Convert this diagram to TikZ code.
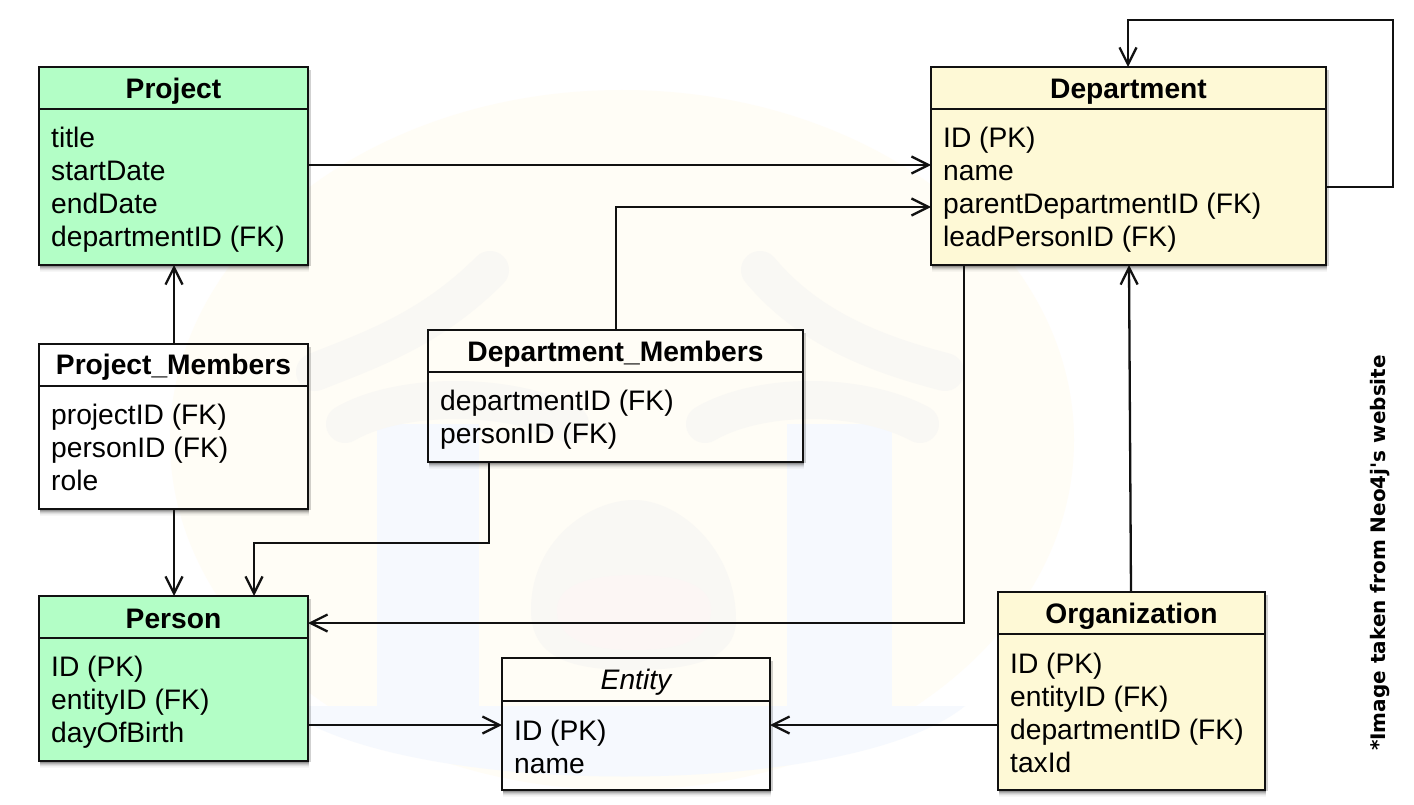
\documentclass[tikz,border=0pt]{standalone}
\usepackage{fontspec}
\setmainfont{Liberation Sans}
\newfontfamily\sidefont{DejaVu Sans}
\usetikzlibrary{arrows.meta}
\definecolor{greenfill}{HTML}{B3FEC6}
\definecolor{yellowfill}{HTML}{FEF9D6}
\definecolor{wmyellow}{HTML}{FFFDF6}
\definecolor{wmblue}{HTML}{F6F9FE}
\definecolor{wmgray}{HTML}{F9F8F4}
\definecolor{wmpink}{HTML}{FCF6F4}
\definecolor{inkcol}{HTML}{111111}
\tikzset{
  classbox/.style={draw=inkcol,line width=2.8pt,inner sep=0pt,outer sep=0pt,rectangle},
  divider/.style={draw=inkcol,line width=2.4pt},
  titletext/.style={anchor=base,inner sep=0pt,text=black,font=\fontsize{28.2}{32}\selectfont\bfseries},
  enttext/.style={anchor=base,inner sep=0pt,text=black,font=\fontsize{28.2}{32}\selectfont\itshape},
  attrtext/.style={anchor=base west,inner sep=0pt,text=black,font=\fontsize{28.2}{32}\selectfont},
  conn/.style={draw=inkcol,line width=2.3pt,-{Straight Barb[length=17pt,width=17pt,line width=2.3pt]}},
  wmarc/.style={draw=wmgray,line width=38pt,line cap=round},
}
% #1 id, #2 x1, #3 y1, #4 x2, #5 y2, #6 divider y, #7 fill, #8 title style, #9 title
\newcommand{\umlclass}[9]{%
  \pgfmathsetmacro\boxw{#4-#2}\pgfmathsetmacro\boxh{#5-#3}%
  \pgfmathsetmacro\boxcx{(#2+#4)/2}\pgfmathsetmacro\boxcy{(#3+#5)/2}%
  \foreach \k/\o in {0/.42,1/.30,2/.20,3/.12,4/.06,5/.03}{%
    \fill[black,opacity=\o] (#2+1,#5+\k+1) rectangle (#4+1,#5+\k+2);}%
  \fill[black,opacity=.18] (#4+1,#3+3) rectangle (#4+3,#5+1);%
  \node[classbox,minimum width=\boxw pt,minimum height=\boxh pt,#7] (#1) at (\boxcx,\boxcy) {};%
  \draw[divider] (#1.west |- 0,#6) -- (#1.east |- 0,#6);%
  \node[#8] (#1-title) at (\boxcx,#3+31) {#9};%
}
% #1 id, #2 left x, #3 first baseline, #4 list
\newcommand{\umlattrs}[4]{%
  \foreach \t [count=\n from 0] in {#4}{%
    \node[attrtext] (#1-a\n) at (#2+12,#3+33*\n) {\t};}%
}
\begin{document}
\begin{tikzpicture}[x=1pt,y=-1pt]
\useasboundingbox (0,0) rectangle (1414,805);
\fill[white] (0,0) rectangle (1414,805);
% watermark
\fill[wmyellow] (622,440) ellipse [x radius=452, y radius=350];
\fill[wmblue] (280,706) .. controls (400,800) and (850,800) .. (965,706) -- cycle;
\fill[wmblue] (377,424) rectangle (479,710);
\fill[wmblue] (787,424) rectangle (892,710);
\draw[wmarc] (490,270) .. controls (430,330) and (370,350) .. (315,372);
\draw[wmarc] (760,270) .. controls (810,330) and (880,355) .. (945,372);
\draw[wmarc] (345,424) .. controls (400,392) and (510,392) .. (570,424);
\draw[wmarc] (705,424) .. controls (760,392) and (860,392) .. (920,424);
\fill[wmgray] (531,610) .. controls (531,540) and (590,500) .. (634,500)
  .. controls (680,500) and (736,550) .. (736,620)
  .. controls (736,660) and (690,670) .. (634,670)
  .. controls (575,670) and (531,660) .. (531,610) -- cycle;
\fill[wmpink] (557,610) .. controls (557,585) and (590,575) .. (634,575)
  .. controls (680,575) and (711,585) .. (711,610)
  .. controls (711,640) and (680,650) .. (634,650)
  .. controls (590,650) and (557,640) .. (557,610) -- cycle;
% classes
\umlclass{project}{39}{67}{308}{265}{109}{fill=greenfill}{titletext,yshift=-1pt}{Project}
\umlattrs{project}{39}{148}{title,startDate,endDate,departmentID (FK)}
\umlclass{dept}{931}{67}{1326}{265}{109}{fill=yellowfill}{titletext,yshift=-1pt}{Department}
\umlattrs{dept}{931}{148}{ID (PK),name,parentDepartmentID (FK),leadPersonID (FK)}
\umlclass{pm}{39}{344}{308}{509}{386}{}{titletext,yshift=1pt}{Project\_Members}
\umlattrs{pm}{39}{424.5}{projectID (FK),personID (FK),role}
\umlclass{dm}{428}{330}{803}{462}{372}{}{titletext}{Department\_Members}
\umlattrs{dm}{428}{410}{departmentID (FK),personID (FK)}
\umlclass{person}{39}{596}{308}{761}{638}{fill=greenfill}{titletext,yshift=-1pt}{Person}
\umlattrs{person}{39}{676.5}{ID (PK),entityID (FK),dayOfBirth}
\umlclass{entity}{502}{658}{770}{790}{701}{}{enttext}{Entity}
\umlattrs{entity}{502}{740}{ID (PK),name}
\umlclass{org}{998}{592}{1265}{790}{634}{fill=yellowfill}{titletext}{Organization}
\umlattrs{org}{998}{673}{ID (PK),entityID (FK),departmentID (FK),taxId}
% connectors
\coordinate (selftop) at (1393,20);
\draw[conn] (project.east |- 0,165) -- (dept.west |- 0,165);
\draw[conn] (dm.north -| 616,0) |- (dept.west |- 0,207);
\draw[conn] (pm.north -| 174,0) -- (project.south -| 174,0);
\draw[conn] (pm.south -| 174,0) -- (person.north -| 174,0);
\draw[conn] (dm.south -| 489,0) -- (489,543) -- (254,543) -- (person.north -| 254,0);
\draw[conn] (dept.south -| 964,0) |- (person.east |- 0,623);
\draw[conn] (org.north -| 1131,0) -- (dept.south -| 1129,0);
\draw[conn] (org.west |- 0,725) -- (entity.east |- 0,725);
\draw[conn] (person.east |- 0,725) -- (entity.west |- 0,725);
\draw[conn] (dept.east |- 0,187) -| (selftop) -| (dept.north -| 1128,0);
% side note
\node[rotate=90,inner sep=0pt,text=black,font=\sidefont\fontsize{20}{24}\selectfont\bfseries] (note) at (1380,553) {*Image taken from Neo4j's website};
\end{tikzpicture}
\end{document}
